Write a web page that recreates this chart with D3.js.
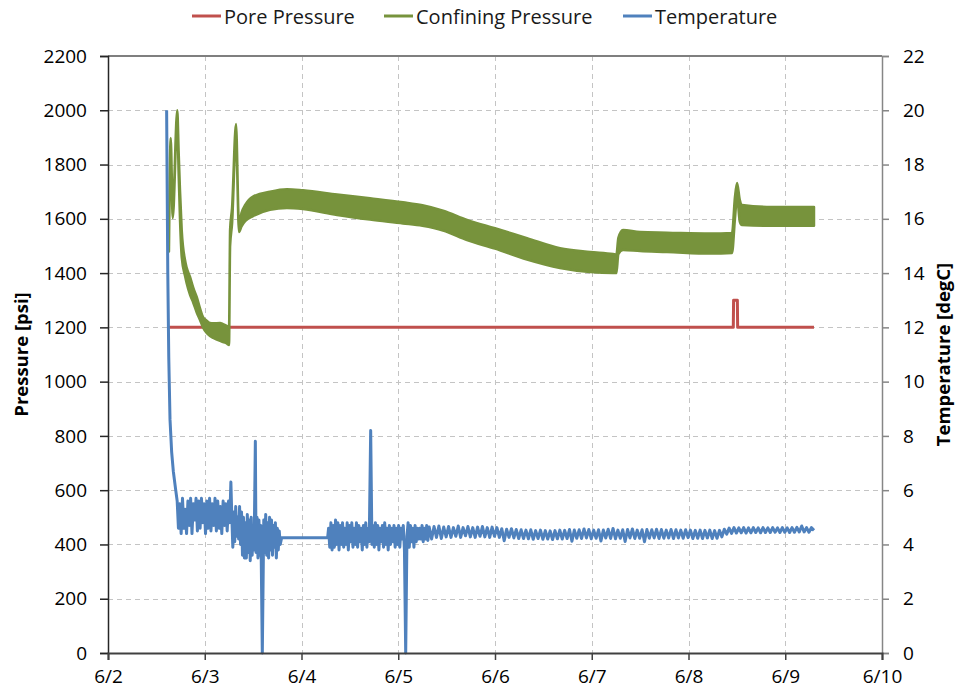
<!DOCTYPE html>
<html>
<head>
<meta charset="utf-8">
<script src="https://cdn.jsdelivr.net/npm/d3@7/dist/d3.min.js"></script>
<style>
  html, body { margin: 0; padding: 0; background: #ffffff; }
  svg { display: block; font-family: "Open Sans", "Liberation Sans", sans-serif; }
</style>
</head>
<body>
<svg id="chart" width="960" height="700"></svg>
<script>
// Day-of-June tick positions and labels for the time axis
const dayTicks = [2, 3, 4, 5, 6, 7, 8, 9, 10];
const dayLabels = ["6/2", "6/3", "6/4", "6/5", "6/6", "6/7", "6/8", "6/9", "6/10"];
const pressureTicks = [0, 200, 400, 600, 800, 1000, 1200, 1400, 1600, 1800, 2000, 2200];
const temperatureTicks = [0, 2, 4, 6, 8, 10, 12, 14, 16, 18, 20, 22];

const seriesNames = ["Pore Pressure", "Confining Pressure", "Temperature"];
const seriesColors = ["#C0504D", "#77933C", "#4F81BD"];

// Pore pressure [day, psi]
const porePressure = [
  [2.630, 1200], [8.463, 1200], [8.466, 1300], [8.505, 1300], [8.508, 1200], [9.297, 1200]
];

// Confining pressure oscillation envelope [day, low psi, high psi]
const confiningPressure = [
  [2.630, 1480, 1520], [2.648, 1860, 1898], [2.669, 1603, 1640], [2.716, 1960, 2000],
  [2.730, 1769, 1850], [2.744, 1600, 1706], [2.762, 1459, 1559], [2.796, 1390, 1448],
  [2.813, 1363, 1420], [2.848, 1320, 1386], [2.882, 1290, 1345], [2.917, 1255, 1312],
  [2.951, 1227, 1270], [2.982, 1200, 1238], [3.020, 1179, 1225], [3.054, 1168, 1216],
  [3.088, 1161, 1215], [3.158, 1150, 1216], [3.189, 1146, 1212], [3.230, 1140, 1205],
  [3.251, 1135, 1200], [3.262, 1500, 1560], [3.282, 1580, 1640], [3.323, 1900, 1949],
  [3.354, 1551, 1580], [3.380, 1572, 1622], [3.420, 1592, 1652], [3.499, 1610, 1682],
  [3.674, 1633, 1700], [3.850, 1640, 1709], [4.016, 1636, 1705], [4.367, 1614, 1690],
  [4.708, 1597, 1676], [5.049, 1583, 1661], [5.250, 1574, 1650], [5.463, 1557, 1630],
  [5.711, 1522, 1596], [6.000, 1490, 1565], [6.331, 1450, 1529], [6.672, 1419, 1492],
  [6.982, 1404, 1478], [7.220, 1400, 1470], [7.255, 1400, 1468], [7.275, 1470, 1530],
  [7.323, 1485, 1559], [7.499, 1481, 1551], [7.778, 1478, 1549], [8.222, 1472, 1546],
  [8.450, 1474, 1548], [8.480, 1600, 1680], [8.502, 1680, 1732], [8.530, 1590, 1670],
  [8.553, 1577, 1651], [8.811, 1574, 1644], [9.297, 1574, 1644]
];

// Temperature [day, degC]
const temperature = [
  [2.606, 20.0], [2.618, 14.0], [2.628, 10.9], [2.641, 8.6], [2.658, 7.4], [2.675, 6.7],
  [2.700, 6.0], [2.715, 5.6],
  [2.728, 4.6], [2.742, 5.5], [2.756, 4.4], [2.770, 5.7], [2.784, 4.6], [2.798, 5.3],
  [2.812, 4.4], [2.826, 5.6], [2.840, 4.7], [2.854, 5.7], [2.868, 4.4], [2.882, 5.5],
  [2.896, 4.9], [2.910, 5.7], [2.924, 4.5], [2.938, 5.6], [2.952, 4.6], [2.966, 5.7],
  [2.980, 4.8], [2.994, 5.5], [3.008, 4.4], [3.022, 5.6], [3.036, 4.6], [3.050, 5.7],
  [3.064, 4.5], [3.078, 5.5], [3.092, 4.7], [3.106, 5.7], [3.120, 4.5], [3.134, 5.6],
  [3.148, 4.6], [3.162, 5.4], [3.176, 4.4], [3.190, 5.6], [3.204, 4.7], [3.218, 5.5],
  [3.232, 4.5], [3.246, 5.6], [3.258, 4.8],
  [3.270, 6.3], [3.280, 5.0], [3.290, 3.9], [3.300, 5.2], [3.310, 4.1], [3.320, 5.4],
  [3.330, 4.3], [3.340, 5.0], [3.350, 4.2], [3.360, 5.4], [3.370, 4.0], [3.380, 5.2],
  [3.390, 3.6], [3.400, 5.0], [3.410, 3.5], [3.420, 4.8], [3.430, 3.5], [3.440, 5.1],
  [3.450, 3.7], [3.460, 4.9], [3.470, 3.4], [3.480, 5.0], [3.490, 3.6], [3.500, 4.6],
  [3.510, 3.8], [3.523, 7.8], [3.530, 3.7], [3.540, 5.0], [3.550, 3.5], [3.560, 4.9],
  [3.570, 3.6], [3.580, 4.7], [3.595, 0.0], [3.610, 4.9], [3.620, 3.7], [3.630, 5.1],
  [3.640, 3.6], [3.650, 4.8], [3.660, 3.5], [3.670, 5.0], [3.680, 3.8], [3.690, 4.9],
  [3.700, 3.6], [3.710, 4.7], [3.720, 3.9], [3.730, 4.8], [3.740, 3.5], [3.750, 4.6],
  [3.760, 3.8], [3.770, 4.5], [3.780, 4.0], [3.795, 4.25], [4.000, 4.25], [4.270, 4.25],
  [4.280, 4.6], [4.292, 3.9], [4.304, 4.8], [4.316, 3.8], [4.328, 4.7], [4.340, 3.9],
  [4.352, 4.9], [4.364, 4.0], [4.376, 4.8], [4.388, 3.8], [4.400, 4.7], [4.412, 4.0],
  [4.424, 4.8], [4.436, 3.9], [4.448, 4.6], [4.460, 4.0], [4.472, 4.8], [4.484, 3.8],
  [4.496, 4.7], [4.508, 4.1], [4.520, 4.8], [4.532, 3.9], [4.544, 4.6], [4.556, 4.0],
  [4.568, 4.8], [4.580, 3.9], [4.592, 4.7], [4.604, 4.1], [4.616, 4.6], [4.628, 3.8],
  [4.640, 4.7], [4.652, 4.0], [4.664, 4.8], [4.676, 3.9], [4.688, 4.6], [4.700, 4.1],
  [4.715, 8.2], [4.728, 4.0], [4.740, 4.7], [4.752, 3.9], [4.764, 4.8], [4.776, 4.0],
  [4.788, 4.7], [4.800, 3.8], [4.812, 4.6], [4.824, 4.1], [4.836, 4.7], [4.848, 3.9],
  [4.860, 4.8], [4.872, 4.0], [4.884, 4.6], [4.896, 3.8], [4.908, 4.7], [4.920, 4.0],
  [4.932, 4.6], [4.944, 4.1], [4.956, 4.7], [4.968, 3.9], [4.980, 4.6], [4.992, 4.0],
  [5.004, 4.7], [5.016, 3.9], [5.028, 4.6], [5.040, 4.2], [5.052, 4.7], [5.064, 3.8],
  [5.077, 0.0], [5.090, 4.3], [5.102, 4.8], [5.114, 3.9], [5.126, 4.7], [5.138, 4.1],
  [5.150, 4.6], [5.162, 3.9], [5.174, 4.7], [5.186, 4.1], [5.198, 4.6], [5.210, 4.2],
  [5.222, 4.6], [5.234, 4.2], [5.246, 4.7], [5.258, 4.1], [5.270, 4.6], [5.282, 4.2],
  [5.294, 4.7], [5.306, 4.15],
  [5.320, 4.64], [5.345, 4.20], [5.370, 4.66], [5.395, 4.26], [5.420, 4.68], [5.445, 4.22],
  [5.470, 4.64], [5.495, 4.28], [5.520, 4.66], [5.545, 4.26], [5.570, 4.62], [5.595, 4.30],
  [5.620, 4.68], [5.645, 4.26], [5.670, 4.62], [5.695, 4.32], [5.720, 4.66], [5.745, 4.28],
  [5.770, 4.62], [5.795, 4.26], [5.820, 4.64], [5.845, 4.30], [5.870, 4.66], [5.895, 4.28],
  [5.920, 4.62], [5.945, 4.26], [5.970, 4.64], [5.995, 4.30], [6.020, 4.62], [6.045, 4.26],
  [6.070, 4.58], [6.095, 4.14], [6.120, 4.56], [6.145, 4.26], [6.170, 4.58], [6.195, 4.24],
  [6.220, 4.55], [6.245, 4.22], [6.270, 4.54], [6.295, 4.22], [6.320, 4.53], [6.345, 4.21],
  [6.370, 4.54], [6.395, 4.19], [6.420, 4.51], [6.445, 4.22], [6.470, 4.53], [6.495, 4.19],
  [6.520, 4.51], [6.545, 4.20], [6.570, 4.50], [6.595, 4.18], [6.620, 4.51], [6.645, 4.21],
  [6.670, 4.53], [6.695, 4.20], [6.720, 4.52], [6.745, 4.22], [6.770, 4.55], [6.795, 4.12],
  [6.820, 4.53], [6.845, 4.23], [6.870, 4.54], [6.895, 4.22], [6.920, 4.57], [6.945, 4.24],
  [6.970, 4.55], [6.995, 4.21], [7.020, 4.53], [7.045, 4.23], [7.070, 4.54], [7.095, 4.13],
  [7.120, 4.53], [7.145, 4.24], [7.170, 4.56], [7.195, 4.22], [7.220, 4.59], [7.245, 4.21],
  [7.270, 4.53], [7.295, 4.23], [7.320, 4.54], [7.345, 4.11], [7.370, 4.55], [7.395, 4.24],
  [7.420, 4.57], [7.445, 4.22], [7.470, 4.53], [7.495, 4.23], [7.520, 4.54], [7.545, 4.10],
  [7.570, 4.55], [7.595, 4.23], [7.620, 4.54], [7.645, 4.24], [7.670, 4.56], [7.695, 4.22],
  [7.720, 4.55], [7.745, 4.23], [7.770, 4.53], [7.795, 4.24], [7.820, 4.55], [7.845, 4.22],
  [7.870, 4.54], [7.895, 4.24], [7.920, 4.53], [7.945, 4.23], [7.970, 4.54], [7.995, 4.25],
  [8.020, 4.53], [8.045, 4.22], [8.070, 4.52], [8.095, 4.23], [8.120, 4.53], [8.145, 4.22],
  [8.170, 4.52], [8.195, 4.24], [8.220, 4.53], [8.245, 4.22], [8.270, 4.51], [8.295, 4.23],
  [8.320, 4.52], [8.345, 4.28], [8.370, 4.56], [8.395, 4.38], [8.420, 4.60], [8.445, 4.41],
  [8.470, 4.62], [8.495, 4.42], [8.520, 4.61], [8.545, 4.43], [8.570, 4.62], [8.595, 4.42],
  [8.620, 4.61], [8.645, 4.43], [8.670, 4.62], [8.695, 4.44], [8.720, 4.61], [8.745, 4.43],
  [8.770, 4.62], [8.795, 4.44], [8.820, 4.61], [8.845, 4.44], [8.870, 4.62], [8.895, 4.45],
  [8.920, 4.61], [8.945, 4.44], [8.970, 4.62], [8.995, 4.45], [9.020, 4.61], [9.045, 4.44],
  [9.070, 4.62], [9.095, 4.45], [9.120, 4.63], [9.145, 4.46], [9.170, 4.68], [9.195, 4.46],
  [9.220, 4.62], [9.245, 4.45], [9.270, 4.62], [9.297, 4.52]
];

// Plot frame
const plot = { left: 108, right: 882, top: 56, bottom: 653 };
const svg = d3.select("#chart");

const x = d3.scaleLinear().domain([2, 10]).range([plot.left, plot.right]);
const yP = d3.scaleLinear().domain([0, 2200]).range([plot.bottom, plot.top]);
const yT = d3.scaleLinear().domain([0, 22]).range([plot.bottom, plot.top]);

// Dashed gridlines
const grid = svg.append("g").attr("stroke", "#c4c4c4").attr("stroke-width", 1)
  .attr("stroke-dasharray", "5,4");
grid.selectAll("line.h").data(pressureTicks.filter(v => v > 0 && v < 2200)).join("line")
  .attr("class", "h")
  .attr("x1", plot.left).attr("x2", plot.right)
  .attr("y1", d => Math.round(yP(d)) + 0.5).attr("y2", d => Math.round(yP(d)) + 0.5);
grid.selectAll("line.v").data(dayTicks.filter(v => v > 2 && v < 10)).join("line")
  .attr("class", "v")
  .attr("y1", plot.top).attr("y2", plot.bottom)
  .attr("x1", d => Math.round(x(d)) + 0.5).attr("x2", d => Math.round(x(d)) + 0.5);

// Top border
svg.append("line")
  .attr("x1", plot.left).attr("x2", plot.right)
  .attr("y1", plot.top).attr("y2", plot.top)
  .attr("stroke", "#7f7f7f").attr("stroke-width", 2);

// Series
const pLine = d3.line().x(d => x(d[0])).y(d => yP(d[1]));
const tLine = d3.line().x(d => x(d[0])).y(d => yT(d[1]));
const cArea = d3.area().curve(d3.curveMonotoneX)
  .x(d => x(d[0])).y0(d => yP(d[1])).y1(d => yP(d[2]));

svg.append("path").datum(porePressure).attr("d", pLine)
  .attr("fill", "none").attr("stroke", seriesColors[0]).attr("stroke-width", 3)
  .attr("stroke-linejoin", "round");

svg.append("path").datum(confiningPressure).attr("d", cArea)
  .attr("fill", seriesColors[1]).attr("stroke", seriesColors[1]).attr("stroke-width", 2.5)
  .attr("stroke-linejoin", "round");

svg.append("path").datum(temperature).attr("d", tLine)
  .attr("fill", "none").attr("stroke", seriesColors[2]).attr("stroke-width", 3)
  .attr("stroke-linejoin", "round");

// Axes
const tickFont = "19px";
const leftAxis = svg.append("g").attr("transform", `translate(${plot.left},0)`)
  .call(d3.axisLeft(yP).tickValues(pressureTicks).tickSize(8).tickPadding(13).tickFormat(d3.format("d")));
const rightAxis = svg.append("g").attr("transform", `translate(${plot.right},0)`)
  .call(d3.axisRight(yT).tickValues(temperatureTicks).tickSize(7).tickPadding(14).tickFormat(d3.format("d")));
const bottomAxis = svg.append("g").attr("transform", `translate(0,${plot.bottom})`)
  .call(d3.axisBottom(x).tickValues(dayTicks).tickSize(7).tickPadding(10)
    .tickFormat((d, i) => dayLabels[i]));

[leftAxis, rightAxis, bottomAxis].forEach(g => {
  g.attr("font-family", null);
  g.selectAll("text").attr("font-size", tickFont).attr("fill", "#000");
});
leftAxis.select(".domain").attr("stroke", "#262626").attr("stroke-width", 1.5);
leftAxis.selectAll(".tick line").attr("stroke", "#262626").attr("stroke-width", 1.5);
rightAxis.select(".domain").attr("stroke", "#868686").attr("stroke-width", 1.5);
rightAxis.selectAll(".tick line").attr("stroke", "#868686").attr("stroke-width", 1.5);
bottomAxis.select(".domain").attr("stroke", "#404040").attr("stroke-width", 2);
bottomAxis.selectAll(".tick line").attr("stroke", "#404040").attr("stroke-width", 1.5);

// Axis titles
svg.append("text")
  .attr("transform", `translate(23,${(plot.top + plot.bottom) / 2}) rotate(-90)`)
  .attr("text-anchor", "middle").attr("dominant-baseline", "middle")
  .attr("font-size", "18.5px").attr("font-weight", "bold")
  .text("Pressure [psi]");
svg.append("text")
  .attr("transform", `translate(945,${(plot.top + plot.bottom) / 2}) rotate(-90)`)
  .attr("text-anchor", "middle").attr("dominant-baseline", "middle")
  .attr("font-size", "18.5px").attr("font-weight", "bold")
  .text("Temperature [degC]");

// Legend
const legendX = [192, 384, 623];
const legend = svg.append("g");
seriesNames.forEach((name, i) => {
  legend.append("line")
    .attr("x1", legendX[i]).attr("x2", legendX[i] + 29)
    .attr("y1", 16).attr("y2", 16)
    .attr("stroke", seriesColors[i]).attr("stroke-width", 3);
  legend.append("text")
    .attr("x", legendX[i] + 32).attr("y", 16)
    .attr("dominant-baseline", "central")
    .attr("font-size", "20px").attr("fill", "#1a1a1a")
    .text(name);
});
</script>
</body>
</html>
